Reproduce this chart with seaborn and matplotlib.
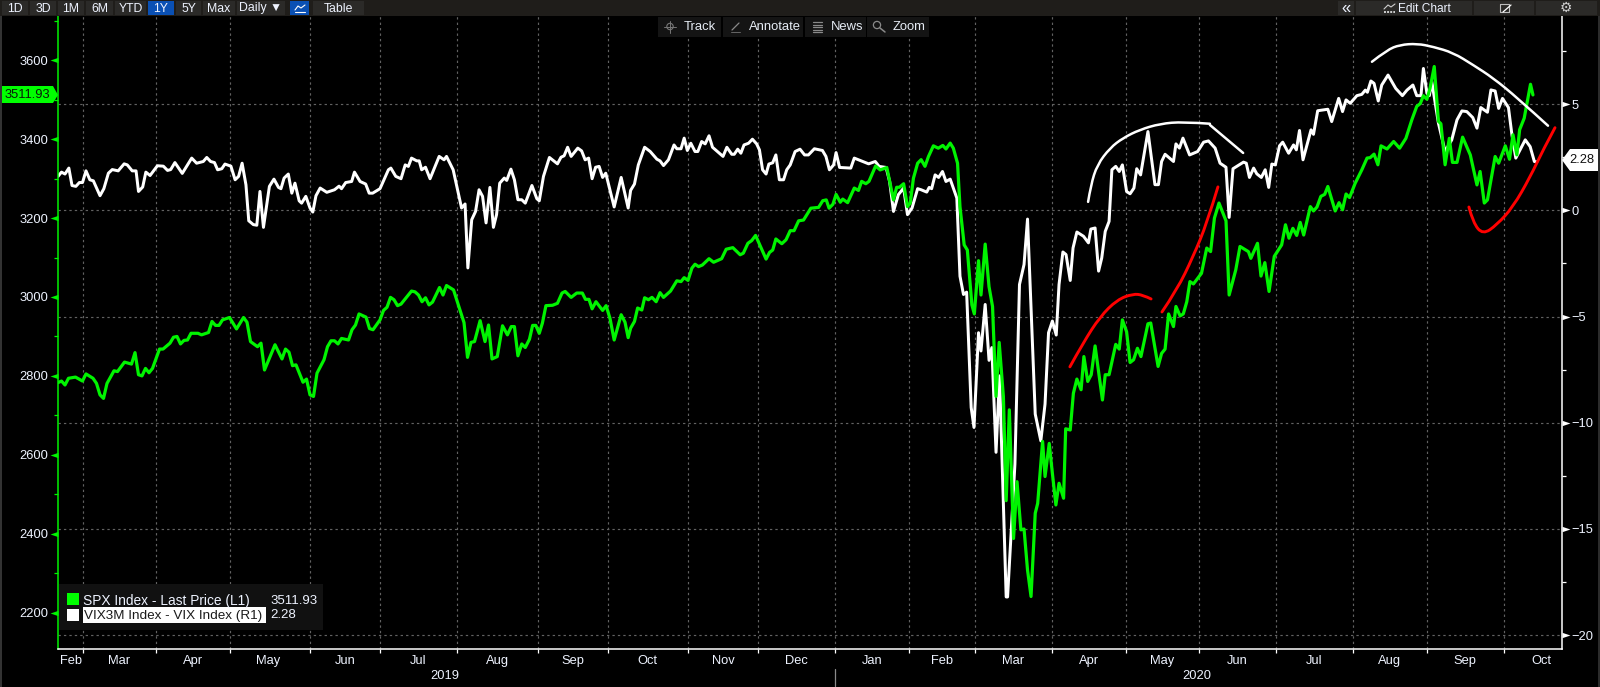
import matplotlib
matplotlib.use("Agg")
import matplotlib.pyplot as plt
from matplotlib.patches import Rectangle, Polygon, Circle, PathPatch
from matplotlib.path import Path
import seaborn as sns

sns.set_style("dark")
plt.rcParams['font.family'] = ['Liberation Sans', 'DejaVu Sans']

## DATA (x = trading session counted from the left edge of the chart)

spx_x = [0, 1, 2, 3, 5, 7, 8, 10, 11, 12, 13, 14, 16, 17, 19, 21, 22, 23, 24, 25, 26, 27, 29, 30, 32, 33, 34, 35, 36, 37, 38, 40, 41, 43, 44, 45, 46, 47, 49, 51, 53, 54, 55, 57, 58, 59, 62, 64, 65, 66, 67, 68, 70, 71, 72, 73, 74, 76, 77, 78, 79, 80, 81, 83, 84, 85, 86, 88, 89, 90, 92, 93, 94, 95, 96, 97, 98, 101, 102, 103, 104, 105, 106, 107, 109, 110, 111, 113, 115, 116, 117, 118, 119,
         120.6, 122, 123, 124, 125.5, 127, 128.4, 129.5, 130.4, 131.4, 132.5, 133.5, 134.7, 135.6, 136.5, 137.5, 138.4, 139.4, 141.3, 142.7, 144, 144.9, 146.6, 148.2, 149.8, 150.7, 151.7, 152.6, 153.7, 155.6, 156.6, 157.7, 158.9, 160.9, 162, 162.9, 163.6, 164.7, 165.6, 166.8, 167.6, 168.7, 169.7, 170.9, 172, 173, 175, 176.8, 178, 178.9, 180, 181.1, 182, 183, 184.1, 186, 187.3, 189.6, 190.9, 192.8, 194.9, 195.8, 197.1, 198.2, 199.3, 202.3, 203.3, 204.2, 205.1, 206.8, 208, 209.2, 210.3, 211.6, 213, 215.1, 217.3, 218.5, 219.5, 220.3, 221.4, 222.3, 223.5, 224.2, 225.6, 227.5, 228.7, 229.6, 230.8, 231.7, 233.6, 234.9, 236.8, 237.6, 238.7, 239.6, 240.4, 241.6, 242.7, 243.5, 244.4, 245.6, 246.6,
         247.7, 248.7, 250.1, 251.5, 252.8, 253.7, 254.9, 255.8, 257, 257.7, 258.9, 259.8, 261.1, 261.8, 263, 263.7, 264.9, 266, 267, 268, 268.9, 270.1, 270.9, 271.8, 273, 274, 275.1, 276, 277, 278, 279.2, 279.9, 281.3, 282, 283.2, 284.1, 285.1, 286, 287.3, 287.9, 289.2, 290.1, 291.1, 292.3, 293.1, 294.2, 295.2, 296.3, 298.4, 299.2, 300.3, 302.2, 303.2, 304.1, 305.3, 306.3, 307.3, 308.4, 309.4, 311.4, 312.2, 314.3, 315.3, 316.3, 317.3, 318.7, 319.4, 320.6, 321.5, 322.5,
         323.4, 324.4, 326.7, 328.2, 329.3, 330.4, 331.7, 333.7, 334.6, 336.5, 337.7, 340.1, 340.8, 342.7, 343.7, 344.8, 346, 347.5, 349.6, 350.7, 351.7, 352.8, 353.9,
         354.9, 355.9, 357.8, 358.7, 359.7, 360.8, 361.9, 362.8, 364.9, 366, 367, 368, 369, 370.6, 372.5, 374, 374.9, 376, 377.1, 378, 379.7, 381.6, 383.3, 385.1, 386.8, 388.2, 389.2, 390.1, 391.1, 392, 393.2, 394.4, 395.1, 396.3, 397.5, 398.4, 399.7, 401.3, 403.5, 405.4, 406.3, 407.5, 408.4, 410.6, 411.6, 413.5, 414.7, 415.7, 416.8, 417.6, 418.9, 420.7, 421.4]
spx_y = [2783, 2787, 2777, 2794, 2797, 2787, 2805, 2794, 2781, 2752, 2743, 2781, 2813, 2811, 2835, 2830, 2859, 2803, 2800, 2819, 2808, 2819, 2868, 2868, 2883, 2898, 2900, 2881, 2890, 2891, 2908, 2908, 2904, 2910, 2938, 2928, 2928, 2942, 2948, 2919, 2948, 2936, 2887, 2874, 2883, 2815, 2879, 2843, 2868, 2860, 2826, 2828, 2784, 2792, 2752, 2748, 2807, 2841, 2874, 2889, 2889, 2881, 2895, 2891, 2917, 2929, 2957, 2949, 2920, 2917, 2942, 2966, 2974, 2999, 2993, 2978, 2982, 3015, 3013, 3005, 2988, 2998, 2980, 2987, 3024, 3005, 3029, 3018, 2963, 2935, 2847, 2885, 2887,
         2940, 2887, 2929, 2843, 2849, 2927, 2904, 2925, 2925, 2851, 2881, 2872, 2893, 2928, 2928, 2908, 2934, 2978, 2979, 2984, 3010, 3014, 2999, 3010, 3010, 2994, 2994, 2970, 2988, 2966, 2978, 2946, 2891, 2955, 2936, 2897, 2921, 2938, 2972, 2967, 2998, 2993, 2999, 2988, 3011, 2999, 3015, 3041, 3039, 3049, 3042, 3073, 3083, 3077, 3081, 3097, 3088, 3097, 3121, 3125, 3107, 3111, 3136, 3143, 3156, 3096, 3113, 3119, 3147, 3135, 3145, 3168, 3168, 3193, 3195, 3225, 3227, 3244, 3246, 3225, 3235, 3260, 3240, 3248, 3239, 3276, 3270, 3293, 3287, 3293, 3332, 3322, 3328, 3293, 3246, 3278, 3278, 3287, 3229, 3238, 3301, 3339, 3348,
         3331, 3356, 3383, 3377, 3384, 3375, 3390, 3377, 3339, 3229, 3132, 3119, 2980, 2957, 3092, 3005, 3134, 3026, 2976, 2748, 2885, 2748, 2484, 2714, 2388, 2532, 2410, 2412, 2308, 2241, 2452, 2477, 2634, 2545, 2629, 2553, 2473, 2528, 2490, 2666, 2663, 2756, 2792, 2765, 2849, 2786, 2803, 2876, 2739, 2803, 2803, 2880, 2868, 2942, 2912, 2834, 2841, 2870, 2849, 2932, 2934, 2824, 2857, 2868, 2957, 2925, 2976, 2952, 2957, 2988,
         3039, 3033, 3060, 3124, 3115, 3200, 3238, 3193, 3005, 3069, 3128, 3115, 3098, 3136, 3053, 3087, 3014, 3103, 3132, 3183, 3149, 3174, 3156,
         3189, 3157, 3229, 3218, 3228, 3255, 3260, 3280, 3218, 3239, 3221, 3261, 3252, 3288, 3322, 3352, 3353, 3362, 3335, 3383, 3375, 3394, 3377, 3402, 3449, 3483, 3490, 3510, 3501, 3529, 3584, 3445, 3439, 3335, 3402, 3341, 3341, 3405, 3360, 3284, 3318, 3238, 3246, 3356, 3339, 3383, 3349, 3411, 3360, 3424, 3453, 3539, 3512]

vix_x = [0, 1, 2, 3.1, 4, 5.1, 6.1, 7, 8, 9.1, 10.1, 12, 13.1, 14.4, 15.5, 17.2, 18.9, 19.8, 21.2, 22.3, 23, 24.2, 25.1, 26.3, 28.4, 30.1, 31.3, 32.2, 33.4, 35.5, 38.2, 39.6, 41.5, 42.5, 43.6, 44.7, 45.6, 46.8, 47.7, 49.4, 50.6, 51.6, 52.6, 53.7, 54.5, 55.8, 56.8, 57.7, 58.7, 60.4, 61.7, 63, 63.7, 64.6, 65.8, 66.8, 67.7, 68.9, 69.6, 70.8, 72, 72.8, 73.7, 74.9, 76.8, 79, 80.3, 81, 82.2, 83.9, 84.7, 86.3, 87.9, 88.9, 89.9, 92, 94.4, 95.1, 96.5, 98, 99.2, 100.1, 101, 102.5, 103.2, 103.9, 105, 106.3, 108.9, 110.3, 111, 112.9, 115.3, 116.3, 117.1, 118.2, 119.3, 120.3, 121.3, 122.3, 123.4, 124.4, 125.3, 126.2,
         127.5, 128.2, 129.4, 130.4, 131.4, 132.5, 133.5, 135.4, 136.8, 137.5, 138.7, 140.4, 142.7, 143.7, 144.6, 145.6, 146.6, 148.5, 149.6, 150.6, 151.6, 152.6, 153.6, 154.6, 155.6, 156.5, 158.9, 160.9, 162.9, 163.6, 164.7, 165.8, 167.6, 169.2, 171.1, 172, 173, 174.4, 176, 176.8, 178, 178.9, 179.8, 180.8, 182, 182.8, 183.9, 184.9, 186, 187, 190, 191.1, 192.5, 193.2, 194.2, 195.1, 196, 197.3, 198.4, 199.6, 200.4, 201.3, 202.3, 203.1, 204.2, 205.1, 206.1, 207.3, 208.2, 209.2, 210.6, 212, 213.3, 214.4, 216.1, 218.4, 219.4, 220.4, 221.6, 222.3, 223.3, 226.5, 227.5, 231.6, 233.5, 234.6, 236.6, 237.6, 238.7, 240.1, 241.6, 242.7, 244, 245.6, 246.6, 248.2, 248.9, 249.6, 250.6, 251.6, 252.7, 253.7, 254.9, 256.8,
         257.7, 258.7, 259.6, 260.9, 261.7, 263, 263.7, 264.9, 266, 266.8, 268, 269, 270.9, 271.3, 273.4, 274.7, 276, 277, 279.2, 280.8, 282, 283, 284.1, 285.2, 286, 287.1, 288, 289.2, 290, 291.1, 293, 294.4, 295.1, 296.3, 297.3, 298.2, 299.2, 300.3, 301.1, 302.2, 303.2, 304.1, 305.3, 306.3, 307.4, 308.2, 309.3, 311.4, 313.4, 314.4, 315.3, 316.3, 318.7, 319.4, 320.4, 321.4, 323.3, 325.6, 327.3, 328.7, 330.6, 332, 333.7, 334.6,
         335.7, 338.7, 339.5, 340.4, 341.6, 342.5, 343.8, 344.9, 345.9, 346.8, 347.8, 349, 349.9, 351.6, 353, 353.8, 354.7, 355.7, 358, 358.7, 359.9, 362.8, 363.9, 365.9, 367, 368, 369.2, 371.1, 372.5, 373.5, 374.1, 375.1, 376, 377.2, 378.2, 380, 382.2, 384.1, 385.4, 387.1, 388.2, 389.4, 390.1, 391.1, 391.8, 392.5, 394.4, 396.3, 398.2, 399.7, 401.1, 402.5, 404.2, 405.4, 406.5, 408.4, 409.4, 410.6, 411.6, 412.7, 414.4, 415.4, 416.5, 419.2, 420.6, 421.8, 422.5]
vix_y = [1.60, 1.80, 1.71, 1.99, 1.17, 1.13, 1.31, 1.31, 1.86, 1.44, 1.39, 0.69, 1.02, 1.75, 1.92, 1.86, 2.19, 2.14, 1.86, 1.86, 0.89, 1.10, 1.80, 1.64, 2.10, 2.08, 1.88, 1.92, 2.25, 1.74, 2.46, 2.22, 2.30, 2.49, 2.30, 2.25, 1.91, 1.96, 2.18, 2.08, 1.44, 1.60, 2.22, 1.20, -0.49, -0.67, -0.70, 0.89, -0.80, 1.13, 1.47, 1.08, 1.02, 1.52, 1.71, 0.81, 1.28, 0.45, 0.34, 0.66, 0.11, -0.08, 0.69, 1.05, 0.85, 0.97, 1.14, 1.02, 1.31, 1.36, 1.80, 1.36, 1.24, 0.81, 0.81, 1.02, 1.91, 1.99, 1.60, 1.49, 2.14, 2.07, 2.46, 2.33, 2.33, 1.91, 2.03, 1.49, 2.54, 2.38, 2.54, 1.91, 0.11, 0.30, -2.71, -0.44, -0.05, 0.97, 0.66, -0.59, 1.08, -0.80, -0.20, 1.28,
         1.52, 1.41, 1.94, 1.44, 0.50, 0.50, 0.34, 1.17, 0.55, 0.45, 1.60, 2.49, 2.19, 2.50, 2.57, 2.97, 2.54, 2.93, 2.80, 2.38, 2.46, 1.49, 2.03, 2.07, 1.55, 1.75, 0.16, 1.55, 0.11, 0.94, 1.24, 2.14, 2.97, 2.77, 2.41, 2.33, 2.11, 2.38, 3.08, 2.90, 2.90, 3.40, 2.82, 3.16, 2.77, 2.77, 3.24, 3.13, 3.51, 2.97, 2.54, 2.97, 2.64, 2.64, 2.88, 2.69, 3.08, 3.16, 3.35, 3.13, 2.85, 1.91, 1.71, 2.18, 2.24, 2.61, 1.44, 1.44, 1.91, 2.14, 2.77, 2.88, 2.61, 2.61, 2.90, 2.82, 2.54, 1.91, 2.14, 2.72, 2.02, 1.99, 2.46, 2.19, 2.30, 2.07, 2.02, 1.36, -0.05, 0.74, 1.05, -0.20, 0.11, 1.02, 0.97, 0.86, 1.08, 1.02, 1.67, 1.55, 1.83, 1.36, 1.47, 0.58,
         -3.10, -3.96, -3.85, -9.28, -10.22, -5.76, -6.62, -4.43, -7.06, -6.46, -11.39, -7.79, -18.2, -18.2, -11.94, -3.49, -2.55, -0.41, -9.59, -10.85, -9.12, -5.76, -5.21, -5.87, -3.49, -1.96, -2.08, -3.30, -1.77, -1.02, -1.22, -1.53, -0.88, -0.83, -2.86, -2.24, -0.99, -0.52, 1.91, 2.07, 1.83, 2.14, 0.89, 0.78, 1.05, 1.96, 1.67, 3.71, 1.21, 1.21, 2.30, 2.64, 2.30, 3.13, 2.93, 3.40, 2.61, 2.77, 3.21, 3.27, 2.93, 2.22, 2.03, -0.33,
         1.96, 2.27, 2.22, 1.55, 1.99, 1.72, 1.55, 1.91, 1.08, 2.18, 2.14, 3.04, 3.21, 2.69, 3.08, 2.85, 3.76, 2.38, 3.79, 3.58, 4.69, 4.76, 4.18, 5.27, 4.65, 5.20, 5.04, 5.40, 5.46, 5.66, 5.56, 6.09, 5.98, 5.15, 5.90, 6.37, 5.74, 5.40, 5.66, 5.90, 5.40, 5.40, 6.68, 5.51, 5.40, 6.06, 4.10, 2.77, 3.32, 4.26, 4.68, 4.65, 4.37, 3.87, 4.84, 4.62, 5.67, 5.62, 4.80, 5.27, 4.84, 3.55, 2.46, 3.32, 3.00, 2.30, 2.28]

# hand drawn curves, in SPX axis units
white_arc1_x = [294.3, 295.1, 296.9, 300.6, 304.3, 309.1, 314.9, 321.4, 329.1]
white_arc1_y = [3241, 3284, 3335, 3378, 3403, 3424, 3439, 3444, 3439]
white_stroke_x = [329.1, 338.6]
white_stroke_y = [3436, 3365]
white_arc2_x = [375.4, 379.7, 383.4, 388.3, 392.9, 398.6, 404.3, 410, 416.9, 425.7]
white_arc2_y = [3596, 3626, 3639, 3642, 3634, 3619, 3588, 3555, 3505, 3434]
red_arc1_x = [289.1, 292.9, 297.7, 302.6, 307.1, 310, 312.3]
red_arc1_y = [2823, 2884, 2950, 2993, 3008, 3005, 2995]
red_arc2_x = [315.4, 319.7, 324.3, 328.3, 331.4]
red_arc2_y = [2962, 3018, 3102, 3188, 3279]
red_arc3_x = [403.1, 404.3, 407.1, 411.1, 415.7, 420.6, 424.3, 427.7]
red_arc3_y = [3228, 3188, 3158, 3183, 3228, 3304, 3373, 3429]

month_ends = [7, 28, 49, 72, 92, 114, 137, 157, 180, 200, 222, 243, 262, 284, 305, 326, 348, 370, 391, 413]
month_centers = [3.6, 17.5, 38.5, 60, 82, 103, 125.5, 147, 168.5, 190, 211, 232.5, 252.5, 273, 294.5, 315.5, 337, 359, 380.5, 402, 423.7]
month_names = ["Feb", "Mar", "Apr", "May", "Jun", "Jul", "Aug", "Sep", "Oct", "Nov", "Dec", "Jan", "Feb", "Mar", "Apr", "May", "Jun", "Jul", "Aug", "Sep", "Oct"]
left_ticks = [2200, 2400, 2600, 2800, 3000, 3200, 3400, 3600]
left_minor = [2300, 2500, 2700, 2900, 3100, 3300, 3500, 3700]
right_ticks = [-20, -15, -10, -5, 0, 5]
right_minor = [-17.5, -12.5, -7.5, -2.5, 2.5, 7.5]

W, H = 1600, 687
GREEN = "#00f400"
TXT = "#eef3ff"
GRID = "#626262"

fig = plt.figure(figsize=(W / 100, H / 100), dpi=100, facecolor="black")
ax2 = fig.add_axes([58 / W, 1 - 649 / H, (1562 - 58) / W, (649 - 16) / H], facecolor="black")
ax = ax2.twinx()

# the SPX axes goes on top so green covers white, as in the terminal
ax.set_zorder(ax2.get_zorder() + 1)
ax.patch.set_visible(False)

## AXES

ax2.set_xlim(0, 429.7)
ax.set_ylim(2108, 3712)
ax2.set_ylim(-20.65, 9.15)

ax.yaxis.tick_left()
ax.yaxis.set_label_position("left")
ax2.yaxis.tick_right()
ax2.yaxis.set_label_position("right")

for a in (ax, ax2):
    for s in a.spines.values():
        s.set_visible(False)

for side, color in [("left", GREEN), ("bottom", "white"), ("right", "white")]:
    ax.spines[side].set_visible(True)
    ax.spines[side].set_color(color)
    ax.spines[side].set_linewidth(1.1)

ax.set_yticks(left_ticks)
ax.set_yticks(left_minor, minor=True)
ax.tick_params(axis="y", which="major", length=0, pad=7, labelsize=9.3, labelcolor=TXT, left=True)
ax.tick_params(axis="y", which="minor", length=2.6, width=0.9, color=GREEN, left=True)

# twinx hides the x axis of the twin, so the months live on ax2
ax2.set_xticks(month_ends)
ax2.set_xticks(month_centers, minor=True)
ax2.set_xticklabels([])
ax2.set_xticklabels(month_names, minor=True)
ax2.tick_params(axis="x", which="major", length=3, width=0.9, color="white", bottom=True, direction="out")
ax2.tick_params(axis="x", which="minor", length=0, pad=4.5, labelsize=9.3, labelcolor=TXT, bottom=False)

ax2.set_yticks(right_ticks)
ax2.set_yticks(right_minor, minor=True)
ax2.tick_params(axis="y", which="major", length=0, pad=7, labelsize=9.3, labelcolor=TXT, right=True)
ax2.tick_params(axis="y", which="minor", length=2.6, width=0.9, color="white", right=True)

ax2.grid(True, which="major", axis="both", color=GRID, linewidth=0.85, linestyle=(0, (2, 2.6)))
ax.grid(False)

## SERIES

sns.lineplot(x=vix_x, y=vix_y, ax=ax2, color="white", linewidth=2.15, estimator=None, sort=False, legend=False)
sns.lineplot(x=spx_x, y=spx_y, ax=ax, color=GREEN, linewidth=2.3, estimator=None, sort=False, legend=False)
ax.set_xlabel("")
ax.set_ylabel("")
ax2.set_xlabel("")
ax2.set_ylabel("")


def curve(xs, ys, color, lw):
    # quadratic pieces through the midpoints, the curves are freehand and have no corners
    pts = list(zip(xs, ys))
    verts, codes = [pts[0]], [Path.MOVETO]
    for i in range(1, len(pts) - 1):
        end = pts[-1] if i == len(pts) - 2 else ((pts[i][0] + pts[i + 1][0]) / 2, (pts[i][1] + pts[i + 1][1]) / 2)
        verts += [pts[i], end]
        codes += [Path.CURVE3, Path.CURVE3]
    if len(pts) == 2:
        verts.append(pts[1])
        codes.append(Path.LINETO)
    ax.add_patch(PathPatch(Path(verts, codes), facecolor="none", edgecolor=color, linewidth=lw, capstyle="round", zorder=5))


curve(white_arc1_x, white_arc1_y, "white", 1.8)
curve(white_stroke_x, white_stroke_y, "white", 1.8)
curve(white_arc2_x, white_arc2_y, "white", 1.8)
curve(red_arc1_x, red_arc1_y, "#ff0000", 2.1)
curve(red_arc2_x, red_arc2_y, "#ff0000", 2.1)
curve(red_arc3_x, red_arc3_y, "#ff0000", 2.1)
ax2.set_xlim(0, 429.7)
ax.set_ylim(2108, 3712)

# tick arrows on both y axes
ax.plot([0] * len(left_ticks), left_ticks, linestyle="", marker=[(-3, 0), (0, -1), (0, 1)], markersize=11.5,
        color=GREEN, markeredgewidth=0, clip_on=False, transform=ax.get_yaxis_transform(), zorder=6)
ax.plot([1] * len(right_ticks), [2108 + (t + 20.65) / 29.8 * 1604 for t in right_ticks], linestyle="",
        marker=[(3, 0), (0, -1), (0, 1)], markersize=11.5, color="white", markeredgewidth=0, clip_on=False,
        transform=ax.get_yaxis_transform(), zorder=6)

# years under the months
ax.text(110.6, -0.0425, "2019", transform=ax.get_xaxis_transform(), ha="center", va="center", fontsize=9.3, color=TXT)
ax.text(325.4, -0.0425, "2020", transform=ax.get_xaxis_transform(), ha="center", va="center", fontsize=9.3, color=TXT)
ax.plot([222, 222], [-0.032, -0.058], color="#8a8a8a", linewidth=0.9, clip_on=False, transform=ax.get_xaxis_transform())

## TERMINAL CHROME, in pixels

ui = fig.add_axes([0, 0, 1, 1], facecolor="none", zorder=20)
ui.set_xlim(0, W)
ui.set_ylim(H, 0)
ui.axis("off")


def box(x0, y0, x1, y1, color):
    ui.add_patch(Rectangle((x0, y0), x1 - x0, y1 - y0, facecolor=color, edgecolor="none"))


def label(x, y, s, color=TXT, ha="center", size=9.3):
    ui.text(x, y, s, color=color, ha=ha, va="center", fontsize=size)


box(0, 0, 1.5, H, "#333333")
box(1598, 0, W, H, "#2b2b2b")
box(0, 0, W, 16, "#1f1d1a")

for x0, x1, s in [(2, 28, "1D"), (30, 56, "3D"), (58, 84, "1M"), (86, 113, "6M"), (115, 146, "YTD"),
                  (176, 201, "5Y"), (203, 235, "Max"), (237, 285, "Daily ▼"), (313, 364, "Table")]:
    box(x0, 1, x1, 15, "#2b2a28")
    label((x0 + x1) / 2, 8.5, s, size=8.8)
box(148, 1, 174, 15, "#0a50b4")
label(161, 8.5, "1Y", size=8.8)
box(290, 1, 309, 15, "#0a50b4")
ui.plot([295, 298, 301, 305], [10, 6, 8, 5], color="white", linewidth=0.8)
ui.plot([295, 305], [12, 12], color="white", linewidth=0.8)

box(1338, 1, 1354, 15, "#2b2a28")
label(1346, 8, "«", size=12)
box(1356, 1, 1472, 15, "#2b2a28")
label(1398, 8.5, "Edit Chart", ha="left", size=8.6)
box(1474, 1, 1534, 15, "#2b2a28")
box(1536, 1, 1597, 15, "#2b2a28")
ui.plot([1384, 1388, 1391, 1395], [9, 5, 7, 4], color="#cfcfcf", linewidth=0.8)
ui.plot([1384, 1395], [12, 12], color="#cfcfcf", linewidth=1.4, linestyle=(0, (1, 0.6)))
ui.plot([1500, 1509, 1509, 1500, 1500], [4, 4, 12, 12, 4], color="#bdbdbd", linewidth=0.8)
ui.plot([1503, 1511], [12, 5], color="white", linewidth=0.9)
label(1566, 8, "⚙", color="#cfcfcf", size=10)

for x0, x1 in [(658, 721), (723, 803), (805, 866), (867, 929)]:
    box(x0, 17, x1, 37, "#141414")
label(684, 26.5, "Track", ha="left", color="#e6ecf5", size=9.4)
label(749, 26.5, "Annotate", ha="left", color="#e6ecf5", size=9.4)
label(831, 26.5, "News", ha="left", color="#e6ecf5", size=9.4)
label(893, 26.5, "Zoom", ha="left", color="#e6ecf5", size=9.4)
ui.add_patch(Circle((670, 26.5), 3.2, facecolor="none", edgecolor="#777777", linewidth=0.8))
ui.plot([664, 676], [26.5, 26.5], color="#777777", linewidth=0.7)
ui.plot([670, 670], [20.5, 32.5], color="#777777", linewidth=0.7)
ui.plot([732, 739], [30, 23], color="#8a8a8a", linewidth=0.9)
ui.plot([731, 740], [31.5, 31.5], color="#666666", linewidth=0.7)
for yy in (22, 24.5, 27, 29.5, 32):
    ui.plot([813, 822], [yy, yy], color="#8a8a8a", linewidth=0.9)
ui.add_patch(Circle((877, 25), 3.6, facecolor="none", edgecolor="#8a8a8a", linewidth=0.9))
ui.plot([880, 885], [28, 32], color="#8a8a8a", linewidth=1.1)

# last value tags
ui.add_patch(Polygon([(2, 86), (53, 86), (58, 95), (53, 103), (2, 103)], facecolor="#00ff00", edgecolor="none"))
label(27.5, 95, "3511.93", color="#0a1a0a")
ui.add_patch(Polygon([(1562, 160), (1570, 149), (1598, 149), (1598, 171), (1570, 171)], facecolor="white", edgecolor="none"))
label(1582, 160, "2.28", color="#101010")

# legend block
box(59, 584, 323, 630, "#111111")
box(67, 593, 79, 605, "#00ff00")
box(67, 609, 79, 621, "white")
label(83, 600.5, "SPX Index - Last Price (L1)", ha="left", size=9.9)
label(270, 600.5, "3511.93", ha="left", size=9.5)
box(83, 607, 266, 623, "white")
label(84, 615.5, "VIX3M Index - VIX Index (R1)", ha="left", color="#1a1a1a", size=9.7)
label(270, 615.5, "2.28", ha="left", size=9.5)

fig.savefig("out.png", dpi=100, facecolor="black")
